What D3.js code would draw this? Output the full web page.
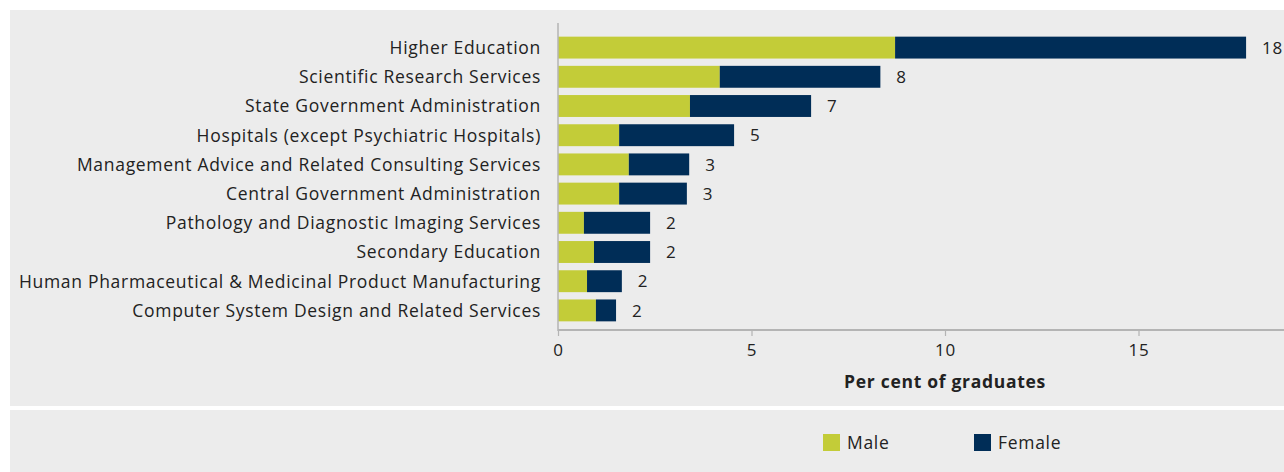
<!DOCTYPE html>
<html>
<head>
<meta charset="utf-8">
<script src="https://cdn.jsdelivr.net/npm/d3@7"></script>
<style>
  html, body { margin: 0; padding: 0; background: #ffffff; }
  svg { display: block; }
  text { font-family: "Open Sans", Lato, sans-serif; fill: #222; letter-spacing: 0.7px; }
</style>
</head>
<body>
<svg id="chart" width="1284" height="472"></svg>
<script>
// Industries of employment, top ten, share of graduates by sex (per cent)
const industries = [
  "Higher Education",
  "Scientific Research Services",
  "State Government Administration",
  "Hospitals (except Psychiatric Hospitals)",
  "Management Advice and Related Consulting Services",
  "Central Government Administration",
  "Pathology and Diagnostic Imaging Services",
  "Secondary Education",
  "Human Pharmaceutical & Medicinal Product Manufacturing",
  "Computer System Design and Related Services"
];
const male   = [8.71, 4.18, 3.41, 1.58, 1.83, 1.58, 0.67, 0.93, 0.75, 0.98];
const female = [9.07, 4.15, 3.13, 2.97, 1.56, 1.75, 1.71, 1.45, 0.90, 0.52];
const xTicks = [0, 5, 10, 15];
const seriesNames = ["Male", "Female"];
const seriesColors = ["#c3cc38", "#002d57"];

const svg = d3.select("#chart");

// background panels
svg.append("rect").attr("x", 10).attr("y", 10).attr("width", 1274).attr("height", 396).attr("fill", "#ececec");
svg.append("rect").attr("x", 10).attr("y", 410).attr("width", 1274).attr("height", 62).attr("fill", "#ececec");

const x = d3.scaleLinear().domain([0, 18.75]).range([558, 558 + 18.75 * 38.7]);
const y = d3.scaleBand().domain(industries).range([33, 325]).paddingInner(0.25).paddingOuter(0.125);

const rows = industries.map((name, i) => ({ name, male: male[i], female: female[i] }));
const stacked = d3.stack().keys(["male", "female"])(rows);
const color = d3.scaleOrdinal().domain(["male", "female"]).range(seriesColors);

// stacked bars
svg.append("g").selectAll("g").data(stacked).join("g")
  .attr("fill", d => color(d.key))
  .selectAll("rect").data(d => d).join("rect")
  .attr("x", d => x(d[0]))
  .attr("y", d => y(d.data.name))
  .attr("width", d => x(d[1]) - x(d[0]))
  .attr("height", y.bandwidth());

// total labels
const fmt = d3.format(".0f");
svg.append("g").selectAll("text").data(rows).join("text")
  .attr("x", d => x(d.male + d.female) + 16)
  .attr("y", d => y(d.name) + y.bandwidth() / 2)
  .attr("dy", "0.36em")
  .attr("font-size", 17)
  .text(d => fmt(Math.round(d.male + d.female)));

// category labels
svg.append("g").selectAll("text").data(industries).join("text")
  .attr("x", 541)
  .attr("y", d => y(d) + y.bandwidth() / 2)
  .attr("dy", "0.36em")
  .attr("text-anchor", "end")
  .attr("font-size", 17.5)
  .text(d => d);

// vertical axis line
svg.append("line").attr("x1", 558).attr("x2", 558).attr("y1", 23).attr("y2", 331)
  .attr("stroke", "#b4b4b4").attr("stroke-width", 1.5);

// bottom axis
const xAxis = svg.append("g").attr("transform", "translate(0,330)")
  .call(d3.axisBottom(x).tickValues(xTicks).tickSize(6).tickPadding(8).tickFormat(d3.format("d")));
xAxis.select(".domain").attr("stroke", "#b4b4b4").attr("stroke-width", 2)
  .attr("d", `M${x(0)},0H1284`);
xAxis.selectAll(".tick line").attr("stroke", "#b4b4b4").attr("stroke-width", 1.2);
xAxis.selectAll(".tick text").attr("font-size", 17).attr("font-family", "'Open Sans', sans-serif").attr("fill", "#222");

svg.append("text")
  .attr("x", x(10)).attr("y", 388)
  .attr("text-anchor", "middle")
  .attr("font-size", 17.5).attr("font-weight", "bold")
  .attr("letter-spacing", "0.6px")
  .attr("fill", "#111")
  .text("Per cent of graduates");

// legend
const legend = svg.append("g").selectAll("g").data(seriesNames).join("g")
  .attr("transform", (d, i) => `translate(${823 + i * 151},434)`);
legend.append("rect").attr("width", 17).attr("height", 17).attr("fill", (d, i) => seriesColors[i]);
legend.append("text").attr("x", 24).attr("y", 8.5).attr("dy", "0.36em")
  .attr("font-size", 17.5).text(d => d);
</script>
</body>
</html>
